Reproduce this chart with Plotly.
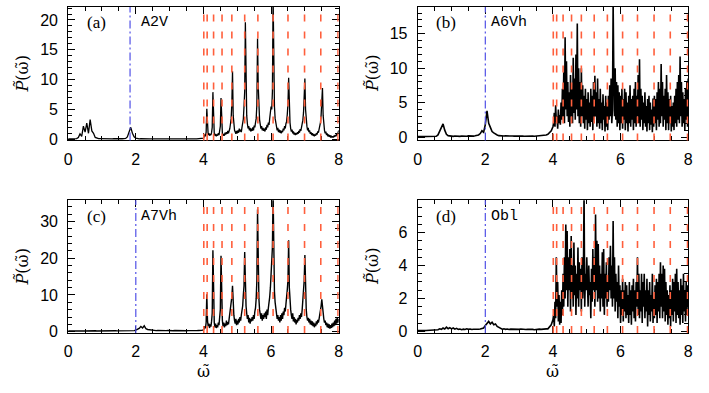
import numpy as np
import plotly.graph_objects as go

# ---------------- data ----------------
# frequency grids: low band 0..4 (step 0.05), high band 4.02..8 (step 0.02)
OMEGA_LOW = np.round(np.arange(81) * 0.05, 2)
OMEGA_HIGH = np.round(4.02 + np.arange(200) * 0.02, 2)

# resonance lines (red dashed) and cutoff (blue dash-dot)
RED_LINES = [4.01, 4.11, 4.30, 4.55, 4.84, 5.22, 5.61, 6.06, 6.50, 6.99, 7.47, 7.98]
BLUE_LINE = {"a": 1.83, "b": 2.0, "c": 2.0, "d": 2.0}

LABELS = {"a": "(a)", "b": "(b)", "c": "(c)", "d": "(d)"}
NAMES = {"a": "A2V", "b": "A6Vh", "c": "A7Vh", "d": "Obl"}

YRANGE = {"a": [-0.2, 22.2], "b": [-0.5, 18.9], "c": [-0.35, 35.8], "d": [-0.1, 7.96]}
YTICKS = {"a": [0, 5, 10, 15, 20], "b": [0, 5, 10, 15], "c": [0, 10, 20, 30], "d": [0, 2, 4, 6]}
YMINOR = {"a": 1, "b": 1, "c": 2, "d": 0.5}
XTICKS = [0, 2, 4, 6, 8]

# ---- panel (a) A2V ----
a_low = [0.05, 0.05, 0.06, 0.05, 0.1, 0.12,
         0.3, 0.9, 0.5, 2.2, 1.2, 2.7, 1.0, 3.3, 1.4, 1.0, 0.3, 0.15, 0.1,
         0.1, 0.08, 0.12, 0.08, 0.1, 0.07, 0.1, 0.08, 0.12, 0.09, 0.1, 0.08, 0.11, 0.09, 0.12, 0.15,
         0.4, 1.2, 2.0, 1.0, 0.4, 0.2,
         0.1, 0.08, 0.1, 0.07, 0.09, 0.08, 0.1, 0.07, 0.08, 0.06, 0.08, 0.07, 0.09, 0.06,
         0.08, 0.07, 0.08, 0.06, 0.07, 0.08, 0.06, 0.07, 0.05, 0.07, 0.06, 0.08, 0.06, 0.07,
         0.05, 0.07, 0.06, 0.07, 0.05, 0.06, 0.07, 0.06, 0.08, 0.07, 0.1, 0.2]
a_high = [0.4, 0.8, 0.5, 1.2, 5.1, 1.5, 0.7, 1.0, 0.6, 0.9,
          0.7, 1.1, 2.0, 7.9, 2.2, 1.0, 0.6, 0.9, 0.5, 0.8,
          0.6, 1.0, 0.7, 1.3, 2.2, 6.9, 2.0, 1.0, 0.6, 0.9,
          0.6, 1.1, 0.8, 1.2, 0.9, 1.4, 1.0, 1.3, 1.8, 2.6,
          3.5, 6.0, 11.4, 4.0, 2.3, 1.5, 1.2, 0.9, 1.4, 1.0,
          1.5, 1.1, 1.8, 1.3, 1.6, 1.2, 2.0, 2.5, 3.4, 5.5,
          8.0, 19.6, 7.5, 4.0, 2.6, 1.8, 2.2, 1.5, 1.9, 1.3,
          1.8, 1.4, 2.0, 1.5, 2.3, 2.0, 2.8, 3.5, 5.8, 16.9,
          9.0, 5.0, 3.3, 2.5, 1.8, 2.2, 1.5, 1.9, 1.4, 1.8,
          1.3, 2.0, 1.6, 2.4, 2.0, 2.8, 2.4, 3.5, 4.2, 5.5,
          5.0, 8.0, 24.0, 6.0, 5.5, 3.5, 2.6, 2.0, 1.5, 1.9,
          1.2, 1.6, 1.1, 1.5, 1.0, 1.4, 1.2, 1.8, 1.5, 2.2,
          1.8, 2.6, 3.0, 4.2, 6.0, 10.3, 4.5, 2.8, 1.8, 1.3,
          1.6, 1.0, 1.3, 0.8, 1.1, 0.7, 1.0, 0.8, 1.2, 0.9,
          1.4, 1.1, 1.7, 1.4, 2.0, 2.6, 3.2, 4.5, 6.5, 10.2,
          5.0, 3.0, 2.2, 1.5, 1.9, 1.2, 1.5, 0.9, 1.2, 0.7,
          1.0, 0.6, 0.9, 0.5, 0.8, 0.6, 1.0, 0.8, 1.3, 1.1,
          1.6, 2.0, 2.8, 4.0, 6.5, 8.6, 4.0, 2.4, 1.5, 1.0,
          1.3, 0.7, 1.0, 0.5, 0.8, 0.4, 0.7, 0.3, 0.6, 0.3,
          0.5, 0.3, 0.6, 0.4, 0.7, 0.5, 0.9, 0.7, 1.2, 1.5]

# ---- panel (b) A6Vh ----
b_low = [0.05, 0.06, 0.05, 0.07, 0.05, 0.06, 0.05, 0.07, 0.06, 0.05, 0.07,
         0.1, 0.3, 0.8, 1.4, 1.9, 1.0, 0.4, 0.2, 0.15,
         0.12, 0.1, 0.14, 0.1, 0.13, 0.1, 0.15, 0.11, 0.14, 0.12, 0.16, 0.12, 0.15, 0.13, 0.17,
         0.2, 0.3, 0.5, 0.9, 0.7, 1.8, 3.8, 2.0, 1.4, 0.8, 0.6, 0.4, 0.3,
         0.2, 0.15, 0.18, 0.14, 0.16, 0.13, 0.15, 0.12, 0.14, 0.13, 0.15, 0.12, 0.14, 0.12,
         0.13, 0.11, 0.13, 0.12, 0.14, 0.11, 0.13, 0.12, 0.14, 0.13, 0.15, 0.14, 0.16,
         0.2, 0.3, 0.4, 0.6, 0.9, 1.5]
b_high = [2.0, 3.5, 1.5, 4.6, 2.2, 3.0, 1.2, 4.0, 2.0, 3.2,
          1.8, 5.0, 2.5, 7.0, 3.0, 9.4, 2.0, 14.5, 4.0, 11.0,
          3.0, 8.0, 2.2, 6.5, 1.5, 9.0, 3.0, 7.0, 2.0, 11.5,
          3.5, 8.5, 2.5, 12.0, 4.0, 16.5, 3.0, 10.0, 2.0, 8.0,
          1.5, 10.0, 3.0, 7.5, 2.0, 6.0, 1.2, 7.0, 2.5, 5.5,
          1.0, 6.5, 2.0, 5.0, 1.5, 7.0, 2.2, 6.0, 1.0, 8.0,
          2.5, 8.9, 3.0, 6.5, 1.5, 8.5, 2.0, 5.5, 1.2, 7.0,
          2.0, 5.0, 1.0, 6.2, 2.5, 4.5, 0.8, 6.0, 1.5, 5.0,
          1.0, 6.0, 2.5, 7.5, 3.0, 8.5, 2.0, 4.0, 19.5, 9.0,
          3.0, 10.0, 2.5, 8.0, 1.5, 7.5, 2.0, 6.5, 1.0, 6.0,
          2.0, 7.0, 1.2, 5.5, 2.5, 7.0, 1.0, 6.5, 2.0, 5.0,
          0.8, 6.0, 2.0, 7.5, 1.5, 5.5, 2.5, 6.0, 1.0, 7.0,
          2.0, 8.0, 1.5, 6.0, 3.0, 9.0, 2.0, 11.3, 1.5, 7.0,
          2.5, 6.0, 1.0, 5.0, 2.0, 6.5, 1.5, 4.5, 0.8, 5.5,
          2.0, 6.0, 1.0, 5.0, 1.8, 4.0, 0.7, 5.6, 1.5, 6.0,
          2.0, 5.5, 1.0, 6.5, 2.5, 8.0, 1.5, 7.0, 2.0, 10.6,
          3.0, 8.0, 1.5, 6.0, 2.5, 7.0, 1.0, 9.0, 2.0, 6.5,
          1.0, 5.5, 2.0, 6.0, 0.8, 4.5, 1.5, 5.0, 1.0, 6.0,
          2.0, 7.0, 1.5, 8.0, 2.5, 9.0, 2.0, 11.7, 3.0, 8.0,
          1.5, 6.5, 2.0, 5.5, 1.0, 7.0, 2.5, 8.0, 1.5, 8.5]

# ---- panel (c) A7Vh ----
c_low = [0.2, 0.22, 0.18, 0.2, 0.23, 0.19, 0.21, 0.18, 0.22, 0.2,
         0.19, 0.23, 0.2, 0.18, 0.22, 0.2, 0.24, 0.19, 0.21, 0.2,
         0.22, 0.18, 0.21, 0.2, 0.23, 0.19, 0.22, 0.2, 0.24, 0.21,
         0.2, 0.23, 0.21, 0.25, 0.22, 0.24, 0.23, 0.26, 0.25, 0.3,
         0.4, 0.6, 0.9, 1.4, 1.0, 1.6, 0.8, 0.6, 0.5,
         0.4, 0.35, 0.4, 0.3, 0.35, 0.3, 0.33, 0.28, 0.32, 0.3, 0.34,
         0.28, 0.3, 0.27, 0.31, 0.28, 0.3, 0.26, 0.29, 0.27, 0.3,
         0.26, 0.28, 0.25, 0.29, 0.27, 0.3, 0.28, 0.32, 0.3, 0.35, 0.5]
c_high = [0.8, 1.5, 0.9, 2.5, 10.2, 3.0, 1.5, 2.2, 1.0, 2.0,
          1.4, 2.8, 5.0, 22.2, 5.5, 2.5, 1.2, 2.2, 1.0, 1.8,
          1.2, 2.5, 1.8, 3.5, 6.0, 20.7, 6.0, 3.0, 1.5, 2.5,
          1.2, 2.2, 1.5, 3.0, 1.8, 2.6, 2.0, 3.5, 4.5, 6.0,
          7.0, 9.5, 12.5, 6.0, 4.5, 3.0, 2.2, 3.5, 1.8, 3.0,
          2.0, 3.5, 2.5, 4.0, 3.0, 4.5, 5.5, 7.0, 10.0, 12.5,
          21.7, 11.0, 7.0, 5.0, 3.5, 4.5, 2.5, 3.8, 2.2, 3.5,
          2.8, 4.0, 3.0, 4.5, 3.5, 5.5, 6.5, 9.0, 14.0, 33.3,
          15.0, 9.0, 6.0, 4.5, 3.5, 5.0, 3.0, 4.5, 3.5, 5.0,
          4.0, 5.5, 3.5, 6.0, 4.5, 6.5, 7.5, 9.5, 12.0, 16.0,
          16.0, 23.0, 38.0, 18.0, 11.0, 8.0, 6.0, 5.0, 3.5, 4.5,
          3.0, 4.0, 2.5, 4.5, 3.0, 5.0, 3.5, 5.5, 4.5, 6.5,
          5.5, 7.5, 9.0, 11.5, 14.0, 24.9, 12.0, 8.0, 6.0, 4.5,
          3.5, 5.0, 2.8, 4.0, 2.5, 3.5, 2.0, 3.2, 2.5, 3.8,
          3.0, 4.5, 3.5, 5.0, 4.0, 6.0, 8.0, 10.0, 14.0, 20.9,
          9.0, 6.0, 4.0, 3.0, 3.8, 2.5, 3.5, 2.0, 3.0, 1.8,
          2.8, 1.5, 2.5, 1.2, 2.2, 1.5, 2.8, 2.0, 3.2, 2.5,
          3.5, 4.5, 5.5, 7.0, 8.8, 6.5, 5.0, 3.5, 2.5, 3.0,
          1.8, 2.5, 1.2, 2.2, 1.0, 2.0, 0.8, 1.8, 1.0, 2.2,
          1.2, 2.5, 1.5, 3.0, 1.8, 3.5, 2.2, 4.0, 2.5, 3.5]

# ---- panel (d) Obl ----
d_low = [0.05, 0.04, 0.05, 0.06, 0.04, 0.05, 0.06, 0.05, 0.07, 0.06, 0.08, 0.07,
         0.1, 0.15, 0.12, 0.2, 0.14, 0.25, 0.16, 0.22, 0.15, 0.2, 0.13, 0.18, 0.12,
         0.14, 0.1, 0.13, 0.11, 0.15, 0.12, 0.14, 0.11, 0.13, 0.12, 0.15, 0.13, 0.14, 0.15,
         0.2, 0.35, 0.5, 0.6, 0.45, 0.55, 0.4, 0.45, 0.3, 0.25,
         0.15, 0.13, 0.15, 0.12, 0.14, 0.11, 0.13, 0.12, 0.14, 0.11, 0.13, 0.12, 0.14, 0.12,
         0.13, 0.11, 0.12, 0.13, 0.11, 0.12, 0.1, 0.12, 0.11, 0.13, 0.12, 0.14, 0.13, 0.15,
         0.15, 0.25, 0.4, 0.7]
d_high = [1.0, 0.3, 1.8, 0.8, 4.5, 1.5, 3.0, 0.6, 2.2, 0.4,
          1.8, 0.5, 2.5, 1.0, 3.5, 1.5, 4.5, 2.0, 6.5, 2.5,
          6.1, 1.5, 4.5, 2.5, 5.0, 1.2, 5.8, 2.0, 4.0, 1.5,
          5.4, 2.2, 4.0, 1.0, 3.5, 2.0, 5.1, 1.5, 4.2, 2.5,
          3.8, 1.2, 4.5, 2.0, 3.0, 8.5, 1.5, 3.5, 2.5, 4.5,
          3.5, 1.5, 4.0, 2.2, 3.0, 0.8, 3.8, 1.8, 5.0, 2.5,
          4.5, 1.5, 7.1, 2.5, 5.5, 1.8, 5.3, 2.0, 4.0, 1.2,
          3.5, 2.0, 4.8, 1.5, 5.0, 1.0, 3.5, 2.0, 4.2, 1.5,
          3.0, 1.8, 4.5, 2.5, 5.2, 2.0, 4.0, 1.5, 6.7, 2.0,
          4.5, 1.2, 3.5, 1.8, 3.0, 0.8, 4.0, 1.5, 2.8, 0.5,
          2.5, 1.0, 3.2, 0.6, 2.5, 1.2, 3.0, 0.8, 2.8, 1.0,
          2.2, 0.5, 3.0, 1.0, 2.5, 0.4, 2.8, 1.2, 3.2, 0.8,
          2.5, 0.6, 3.0, 1.5, 4.5, 1.0, 3.5, 0.8, 2.5, 1.2,
          3.5, 0.5, 3.0, 1.5, 3.5, 0.8, 2.5, 1.2, 3.2, 0.3,
          2.5, 1.0, 3.0, 0.6, 2.2, 1.2, 3.5, 0.5, 2.0, 0.8,
          2.8, 1.0, 3.2, 0.5, 3.0, 1.2, 3.5, 0.8, 4.2, 1.5,
          3.5, 0.8, 4.0, 1.2, 3.8, 0.6, 3.0, 1.0, 2.5, 0.4,
          2.2, 0.8, 2.8, 0.3, 2.5, 1.0, 3.2, 0.6, 3.0, 1.2,
          3.5, 0.5, 3.8, 1.0, 3.0, 0.8, 2.5, 0.4, 3.2, 1.0,
          2.8, 0.5, 3.5, 1.2, 2.5, 0.6, 3.0, 1.0, 2.8, 1.5]

SPECTRA = {"a": (a_low, a_high), "b": (b_low, b_high), "c": (c_low, c_high), "d": (d_low, d_high)}
LINE_W = {"a": 1.3, "b": 1.6, "c": 1.4, "d": 1.6}

# ---------------- layout geometry (pixels in a 709x393 canvas) ----------------
W, H = 709, 393
PANELS = {  # left, right, top, bottom in px
    "a": (65, 339, 7, 143),
    "b": (419, 693, 7, 143),
    "c": (65, 339, 204, 339),
    "d": (419, 693, 204, 339),
}

fig = go.Figure()
TICKFONT = dict(family="Liberation Sans, Arial, sans-serif", size=16, color="black")

for i, key in enumerate(["a", "b", "c", "d"]):
    n = i + 1
    xa = "x" if n == 1 else f"x{n}"
    ya = "y" if n == 1 else f"y{n}"
    lo, hi = SPECTRA[key]
    x = np.concatenate([OMEGA_LOW, OMEGA_HIGH])
    y = np.concatenate([np.array(lo, float), np.array(hi, float)])
    fig.add_trace(go.Scatter(x=x, y=y, mode="lines", line=dict(color="black", width=LINE_W[key]),
                             xaxis=xa, yaxis=ya, showlegend=False, hoverinfo="skip"))
    l, r, t, b = PANELS[key]
    axcommon = dict(showline=True, linecolor="black", linewidth=1, mirror="allticks",
                    ticks="inside", tickcolor="black", showgrid=False, zeroline=False,
                    tickfont=TICKFONT)
    xkey = "xaxis" if n == 1 else f"xaxis{n}"
    ykey = "yaxis" if n == 1 else f"yaxis{n}"
    fig.layout[xkey] = dict(domain=[l / W, r / W], range=[0, 8], anchor=ya,
                            tickvals=XTICKS, ticklen=7, ticklabelstandoff=4,
                            minor=dict(dtick=0.5, ticks="inside", ticklen=4, tickcolor="black"),
                            **axcommon)
    fig.layout[ykey] = dict(domain=[1 - b / H, 1 - t / H], range=YRANGE[key], anchor=xa,
                            tickvals=YTICKS[key], ticklen=7, ticklabelstandoff=6,
                            minor=dict(dtick=YMINOR[key], ticks="inside", ticklen=4, tickcolor="black"),
                            **axcommon)
    # red dashed resonance lines
    for xv in RED_LINES:
        fig.add_shape(type="line", x0=xv, x1=xv, y0=0, y1=1, xref=xa, yref=f"{ya} domain",
                      line=dict(color="rgb(255,95,60)", width=1.6, dash="7px,10px"), layer="above")
    # blue dash-dot line
    xb = BLUE_LINE[key]
    fig.add_shape(type="line", x0=xb, x1=xb, y0=0, y1=1, xref=xa, yref=f"{ya} domain",
                  line=dict(color="rgb(80,80,230)", width=1.2, dash="8px,3px,2px,3px"), layer="above")
    # panel labels
    fig.add_annotation(x=(l + 29) / W, y=1 - (t + 16) / H, xref="paper", yref="paper",
                       text=LABELS[key], showarrow=False, xanchor="center", yanchor="middle",
                       font=dict(family="Liberation Serif, serif", size=17, color="black"))
    fig.add_annotation(x=(l + 72) / W, y=1 - (t + 16) / H, xref="paper", yref="paper",
                       text=NAMES[key], showarrow=False, xanchor="left", yanchor="middle",
                       font=dict(family="Liberation Mono, monospace", size=15, color="black"))
    # y-axis title
    fig.add_annotation(x=(l - 46) / W, y=1 - ((t + b) / 2) / H, xref="paper", yref="paper",
                       text="<i>P\u0303</i>(\u03c9\u0303)", showarrow=False, textangle=-90,
                       xanchor="center", yanchor="middle",
                       font=dict(family="DejaVu Serif, serif", size=16, color="black"))
    if key in ("c", "d"):
        fig.add_annotation(x=(l + r) / 2 / W, y=1 - 378 / H, xref="paper", yref="paper",
                           text="\u03c9\u0303", showarrow=False, xanchor="center", yanchor="middle",
                           font=dict(family="DejaVu Serif, serif", size=16, color="black"))

fig.update_layout(width=W, height=H, margin=dict(l=0, r=0, t=0, b=0),
                  paper_bgcolor="white", plot_bgcolor="white")
fig.write_html("out.html", config={"displayModeBar": False},
               post_script="document.body.style.margin='0px';")
